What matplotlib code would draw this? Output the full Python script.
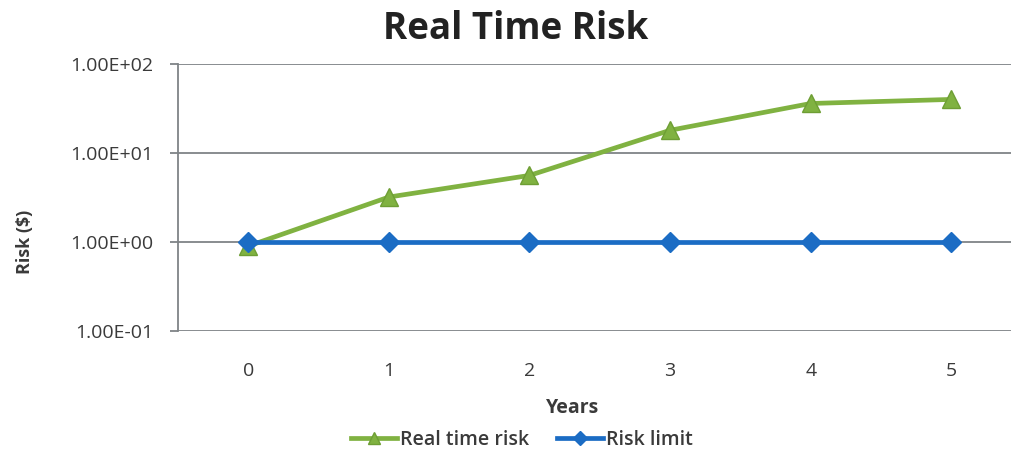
import matplotlib
matplotlib.use("Agg")
import matplotlib.pyplot as plt
from matplotlib.ticker import FixedLocator, NullLocator
from matplotlib.lines import Line2D

plt.rcParams['font.family'] = ['Open Sans', 'DejaVu Sans']

years = [0, 1, 2, 3, 4, 5]
real_time_risk = [0.9, 3.2, 5.6, 18.0, 36.0, 40.0]
risk_limit = [1.0, 1.0, 1.0, 1.0, 1.0, 1.0]
y_ticks = [0.1, 1.0, 10.0, 100.0]
y_tick_labels = ["1.00E-01", "1.00E+00", "1.00E+01", "1.00E+02"]

green = "#80B241"
green_edge = "#6E9E34"
blue = "#1B6CC4"
text_col = "#3A3A3A"
grid_col = "#7F8487"

W, H = 1012, 454
fig = plt.figure(figsize=(W / 100, H / 100), dpi=100)
ax = fig.add_axes([178 / W, (H - 331) / H, (W - 178) / W, (331 - 64) / H])

ax.plot(years, real_time_risk, color=green, lw=3.4, marker="^", ms=13,
        mfc=green, mec=green_edge, mew=1, zorder=3, label="Real time risk")
ax.plot(years, risk_limit, color=blue, lw=3.4, marker="D", ms=10,
        mfc=blue, mec=blue, zorder=4, label="Risk limit")

ax.set_yscale("log")
ax.set_ylim(0.1, 100)
ax.yaxis.set_major_locator(FixedLocator(y_ticks))
ax.yaxis.set_minor_locator(NullLocator())
ax.set_yticklabels(y_tick_labels)
ax.set_xlim(-0.5, -0.5 + (W - 178) / 140.6)
ax.set_xticks(years)
ax.set_xticklabels([str(y) for y in years])

ax.grid(axis="y", color=grid_col, lw=1.3, zorder=0)
for side in ["top", "right", "bottom"]:
    ax.spines[side].set_visible(False)
ax.spines["left"].set_color(grid_col)
ax.spines["left"].set_linewidth(1.3)
ax.tick_params(axis="y", length=6, width=1.3, color=grid_col, labelsize=14,
               labelcolor=text_col, pad=12)
ax.tick_params(axis="x", length=0, labelsize=14, labelcolor=text_col, pad=22)

fig.text(516 / W, 1 - 29 / H, "Real Time Risk", ha="center", va="center",
         fontsize=26.5, fontweight="bold", color="#222222")
fig.text(25 / W, 1 - 242 / H, "Risk ($)", ha="center", va="center",
         rotation=90, fontsize=13, fontweight="bold", color=text_col)
fig.text(573 / W, 1 - 408 / H, "Years", ha="center", va="center",
         fontsize=14, fontweight="bold", color=text_col)

handles = [
    Line2D([], [], color=green, lw=3.4, marker="^", ms=9, mfc=green, mec=green_edge),
    Line2D([], [], color=blue, lw=3.4, marker="D", ms=7, mfc=blue, mec=blue),
]
fig.legend(handles, ["Real time risk", "Risk limit"], loc="center",
           bbox_to_anchor=(522 / W, 1 - 440 / H), ncol=2, frameon=False,
           prop={"size": 14, "weight": "semibold"}, handlelength=2.4,
           handletextpad=0.15, columnspacing=1.4, labelcolor=text_col)

fig.savefig("out.png", dpi=100)
